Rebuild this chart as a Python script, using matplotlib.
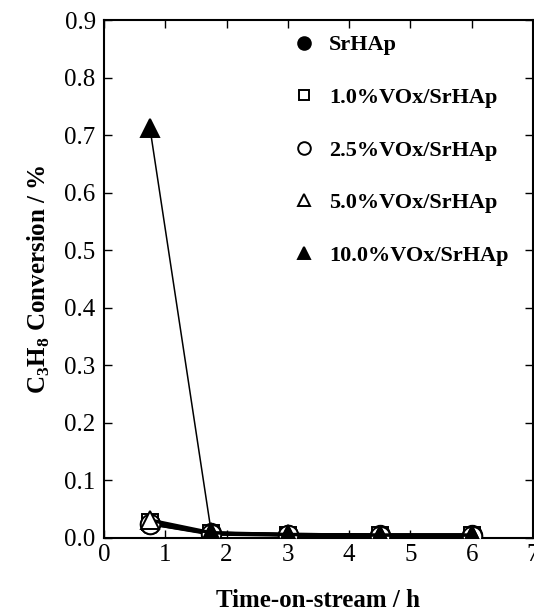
import matplotlib
matplotlib.use("Agg")
import matplotlib.pyplot as plt

plt.rcParams['font.family'] = ['Liberation Serif', 'DejaVu Serif']
plt.rcParams['mathtext.fontset'] = 'custom'
plt.rcParams['mathtext.rm'] = 'Liberation Serif:bold'
plt.rcParams['mathtext.bf'] = 'Liberation Serif:bold'

time_h = [0.75, 1.75, 3.0, 4.5, 6.0]
srhap = [0.025, 0.008, 0.006, 0.005, 0.005]
v10 = [0.027, 0.008, 0.006, 0.005, 0.005]
v25 = [0.025, 0.007, 0.005, 0.004, 0.004]
v50 = [0.031, 0.009, 0.006, 0.005, 0.005]
v100 = [0.712, 0.010, 0.007, 0.006, 0.006]
labels = ['SrHAp', '1.0%VOx/SrHAp', '2.5%VOx/SrHAp', '5.0%VOx/SrHAp', '10.0%VOx/SrHAp']
x_ticks = [0, 1, 2, 3, 4, 5, 6, 7]
y_ticks = [0.0, 0.1, 0.2, 0.3, 0.4, 0.5, 0.6, 0.7, 0.8, 0.9]

fig = plt.figure(figsize=(5.34, 6.14), dpi=100)
ax = fig.add_axes([0.1948, 0.1238, 0.8032, 0.8436])

series = [srhap, v10, v25, v50, v100]
markers = ['o', 's', 'o', '^', '^']
faces = ['black', 'white', 'white', 'white', 'black']
sizes = [14, 11, 14, 13, 12.5]
lws = [2.5, 2.5, 2.5, 2.5, 1.1]
handles = []
for ys, m, fc, ms, lw, lab in zip(series, markers, faces, sizes, lws, labels):
    h, = ax.plot(time_h, ys, color='black', lw=lw, marker=m, markersize=ms,
                 markerfacecolor=fc, markeredgecolor='black', markeredgewidth=1.4,
                 label=lab, zorder=3)
    handles.append(h)

ax.set_xlim(0, 7)
ax.set_ylim(0, 0.9)
ax.set_xticks(x_ticks)
ax.set_yticks(y_ticks)
ax.set_yticklabels([f"{v:.1f}" for v in y_ticks])
ax.tick_params(direction='in', length=6, width=1, top=True, right=True, labelsize=18)
ax.tick_params(axis='x', pad=4)
ax.tick_params(axis='y', pad=6)
for s in ax.spines.values():
    s.set_linewidth(1.5)

ax.set_xlabel('Time-on-stream / h', fontsize=18, fontweight='bold', labelpad=17)
ax.set_ylabel(r'C$_{\mathrm{3}}$H$_{\mathrm{8}}$ Conversion / %', fontsize=18,
              fontweight='bold', labelpad=9)

leg = ax.legend(handles=handles, loc='upper left', bbox_to_anchor=(0.402, 1.01),
                frameon=False, handlelength=0.7, handletextpad=0.77, labelspacing=1.44,
                prop={'weight': 'bold', 'size': 16}, markerscale=0.65)
for lh in leg.get_lines():
    lh.set_linestyle('none')

fig.savefig('out.png', dpi=100)
